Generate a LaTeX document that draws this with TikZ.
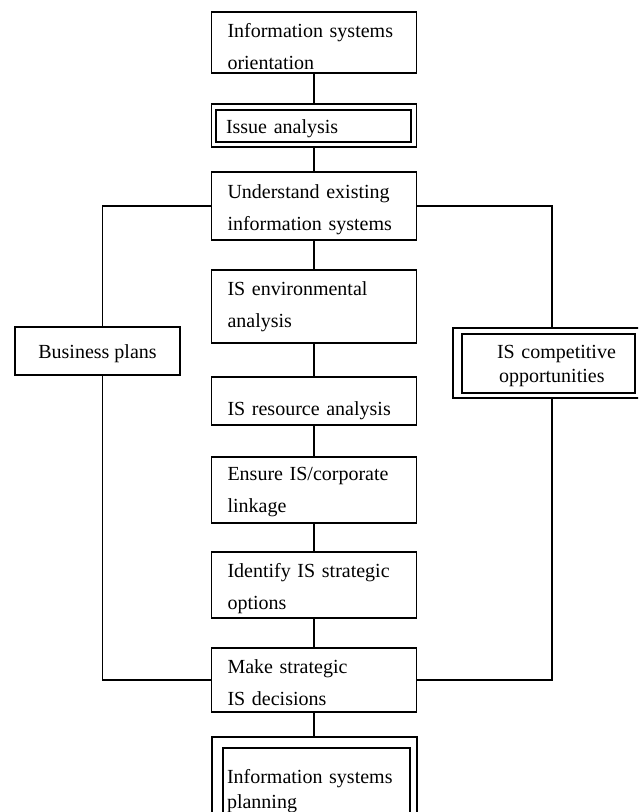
\documentclass[tikz,border=0pt]{standalone}
\usepackage{fontspec}
\setmainfont{Liberation Serif}
\begin{document}
\begin{tikzpicture}[x=1pt,y=-1pt,
  box/.style={draw, line width=1.6pt, fill=white, rectangle, inner ysep=0pt,
    inner xsep=16pt, text width=173pt, align=left, minimum width=205pt,
    font=\fontsize{20}{32}\selectfont},
  frame/.style={draw, line width=1.6pt, fill=white, rectangle, inner sep=0pt},
  conn/.style={line width=1.6pt},
  th/.style 2 args={text height=#1pt, text depth=#2pt}
]
\useasboundingbox (0,0) rectangle (638,812);
\clip (0,0) rectangle (638,812);

% centre column
\node[box, minimum height=61pt, th={14.5}{25.5}] (iso) at (314,42.5) {Information systems\\orientation};
\node[frame, minimum width=205pt, minimum height=43pt] (issO) at (314,125.5) {};
\node[box, inner xsep=10pt, text width=175pt, minimum width=195pt, minimum height=32pt, th={23}{9}] (iss) at (313.5,126) {Issue analysis};
\node[box, minimum height=68pt, th={12}{28}] (und) at (314,206) {Understand existing\\information systems};
\node[box, minimum height=73pt, th={8.5}{31.5}] (env) at (314,306.5) {IS environmental\\analysis};
\node[box, minimum height=48pt, th={34}{6}] (res) at (314,401) {IS resource analysis};
\node[box, minimum height=66pt, th={10}{30}] (ens) at (314,490) {Ensure IS/corporate\\linkage};
\node[box, minimum height=66pt, th={12}{28}] (idf) at (314,585) {Identify IS strategic\\options};
\node[box, minimum height=64pt, th={13}{27}] (mk) at (314,680) {Make strategic\\IS decisions};
\node[frame, minimum width=205pt, minimum height=85pt] (ispO) at (314.5,779.5) {};
\node[box, inner xsep=4pt, text width=179pt, minimum width=187pt, minimum height=67pt, th={21.5}{18.5},
  font=\fontsize{20}{25}\selectfont] (isp) at (316.5,781.5) {Information systems\\planning};

% side boxes
\node[box, text width=, align=center, inner xsep=0pt, minimum width=165pt, minimum height=48pt, th={27}{13}] (bp) at (97.5,351) {Business plans};
\node[frame, minimum width=187pt, minimum height=70pt] (icoO) at (546.5,363) {};
\node[box, inner xsep=10pt, text width=153pt, minimum width=173pt, minimum height=59pt, th={14.5}{25.5},
  font=\fontsize{20}{24}\selectfont] (ico) at (548.5,363.5) {\hspace*{25pt}IS competitive\\\hspace*{27pt}opportunities};

% connectors
\coordinate (lx) at (102.5,0);
\coordinate (rx) at (552,0);
\draw[conn] (iso.south) -- (issO.north);
\draw[conn] (issO.south) -- (und.north);
\draw[conn] (und.south) -- (env.north);
\draw[conn] (env.south) -- (res.north);
\draw[conn] (res.south) -- (ens.north);
\draw[conn] (ens.south) -- (idf.north);
\draw[conn] (idf.south) -- (mk.north);
\draw[conn] (mk.south) -- (mk.south |- ispO.north);
\draw[conn] (und.west) -| (bp.north -| lx);
\draw[conn] (bp.south -| lx) |- (mk.west);
\draw[conn] (und.east) -| (icoO.north -| rx);
\draw[conn] (icoO.south -| rx) |- (mk.east);
\end{tikzpicture}
\end{document}
